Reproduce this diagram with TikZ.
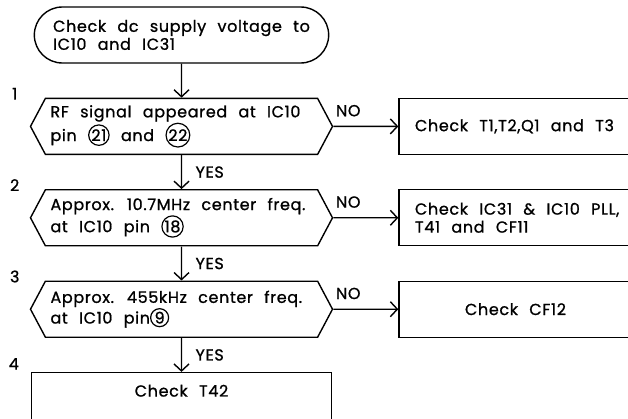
\documentclass[tikz,border=0pt]{standalone}
\usepackage{fontspec}
\setmainfont{Poppins}[WordSpace=2.3, LetterSpace=4, FakeBold=1]
\usetikzlibrary{arrows.meta,calc,shapes.misc,shapes.symbols,positioning}

\newcommand{\pinno}[1]{\tikz[baseline=(p.base)]\node[circle, draw, line width=1.2pt, inner sep=0.5pt, minimum size=18pt, text width=, align=center] (p) {#1};}

\begin{document}
\begin{tikzpicture}[
    x=1pt, y=1pt,
    every node/.style={font=\fontsize{16}{18}\selectfont},
    startbox/.style={rounded rectangle, draw, line width=1.4pt, minimum width=301pt, minimum height=56pt, align=left},
    decision/.style={signal, signal to=west and east, signal pointer angle=124, draw, line width=1.4pt, minimum width=302pt, minimum height=56pt, text width=262pt, align=flush left, inner xsep=0pt},
    checkbox/.style={rectangle, draw, line width=1.4pt, minimum height=56pt, text width=216pt, align=flush left, inner xsep=16pt},
    lastbox/.style={rectangle, draw, line width=1.4pt, minimum width=300pt, text height=24pt, text depth=35pt, inner ysep=0pt, align=center},
    numlabel/.style={inner sep=0pt},
    yes/.style={right=10pt, pos=0.5},
    no/.style={above=6pt, pos=0.23},
    arrow/.style={line width=1.4pt, -{Straight Barb[length=7pt,width=15pt]}}
]
    \useasboundingbox (0,0) rectangle (628,-419);
    \clip (0,0) rectangle (628,-419);

    \node (start) [startbox] at (181.5,-35) {Check dc supply voltage to\\IC10 and IC31};
    \node (q1) [decision, below=34pt of start] {RF signal appeared at IC10\\pin \pinno{21} and \pinno{22}};
    \node (q2) [decision, below=34pt of q1] {Approx. 10.7MHz center freq.\\at IC10 pin \pinno{18}};
    \node (q3) [decision, below=34pt of q2] {Approx. 455kHz center freq.\\at IC10 pin\pinno{9}};
    \node (t42) [lastbox, below=34pt of q3] {Check T42};

    \node (fix1) [checkbox, right=65pt of q1] {Check T1,T2,Q1 and T3};
    \node (fix2) [checkbox, right=65pt of q2] {Check IC31 \& IC10 PLL,\\T41 and CF11};
    \node (fix3) [checkbox, right=65pt of q3] {\hspace*{50pt}Check CF12};

    \node (n1) [numlabel] at ($(q1.west|-q1.north)+(-15,4)$) {1};
    \node (n2) [numlabel] at ($(q2.west|-q2.north)+(-15,4)$) {2};
    \node (n3) [numlabel] at ($(q3.west|-q3.north)+(-15,4)$) {3};
    \node (n4) [numlabel] at ($(t42.north west)+(-17,8)$) {4};

    \draw [arrow] (start) -- (q1);
    \draw [arrow] (q1) -- node[yes] {YES} (q2);
    \draw [arrow] (q2) -- node[yes] {YES} (q3);
    \draw [arrow] (q3) -- node[yes] {YES} (t42);
    \draw [arrow] (q1) -- node[no] {NO} (fix1);
    \draw [arrow] (q2) -- node[no] {NO} (fix2);
    \draw [arrow] (q3) -- node[no] {NO} (fix3);
\end{tikzpicture}
\end{document}
